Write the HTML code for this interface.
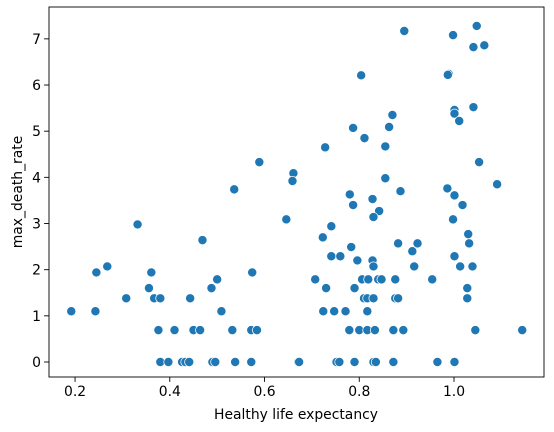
<!DOCTYPE html>
<html><head><meta charset="utf-8"><style>
html,body{margin:0;padding:0;background:#fff;}
svg{display:block;font-family:"DejaVu Sans","Liberation Sans",sans-serif;}
</style></head><body>
<svg id="chart" width="554" height="432" viewBox="0 0 554 432">
<rect x="0" y="0" width="554" height="432" fill="#fff"/>
<g id="points"></g>
<g id="axes"></g>
<text x="296" y="419" font-size="13.9" text-anchor="middle" fill="#000">Healthy life expectancy</text>
<text x="0" y="0" font-size="13.9" text-anchor="middle" fill="#000" transform="translate(22,192) rotate(-90)">max_death_rate</text>
</svg>
<script>
const xTicks = [0.2, 0.4, 0.6, 0.8, 1.0];
const xTickLabels = ["0.2", "0.4", "0.6", "0.8", "1.0"];
const yTicks = [0, 1, 2, 3, 4, 5, 6, 7];
const yTickLabels = ["0", "1", "2", "3", "4", "5", "6", "7"];
const lifeExp = [0.589,0.661,0.659,0.536,0.646,0.332,0.469,0.245,0.268,0.361,0.356,0.500,0.488,0.574,0.308,0.367,0.380,0.443,0.192,0.243,0.509,
0.376,0.410,0.450,0.464,0.532,0.572,0.584,
0.380,0.397,0.426,0.433,0.441,0.490,0.496,0.538,0.572,0.671,
0.728,0.855,0.811,0.804,0.895,0.870,0.863,0.787,0.855,0.780,0.887,0.986,0.828,0.787,0.842,0.830,0.741,0.723,0.783,0.882,0.923,0.912,0.741,0.760,0.796,0.828,0.830,0.916,
0.707,0.806,0.819,0.840,0.847,0.876,0.954,0.730,0.790,
0.810,0.817,0.830,0.876,0.882,
0.724,0.747,0.771,0.817,
0.779,0.800,0.817,0.833,0.872,0.893,
0.673,0.752,0.758,0.790,0.830,0.835,0.872,0.965,
1.048,0.998,1.041,1.064,0.989,0.987,1.001,1.001,1.041,1.011,1.053,1.091,1.001,1.018,0.998,1.030,1.032,1.001,1.013,1.039,1.028,1.028,1.045,1.144,1.001];
const deathRate = [4.33,4.09,3.92,3.74,3.09,2.98,2.64,1.94,2.07,1.94,1.60,1.79,1.60,1.94,1.38,1.38,1.38,1.38,1.10,1.10,1.10,
0.69,0.69,0.69,0.69,0.69,0.69,0.69,
0,0,0,0,0,0,0,0,0,0,
4.65,4.67,4.85,6.21,7.17,5.35,5.09,5.07,3.98,3.63,3.70,3.76,3.53,3.40,3.27,3.14,2.94,2.70,2.49,2.57,2.57,2.40,2.29,2.29,2.20,2.20,2.07,2.07,
1.79,1.79,1.79,1.79,1.79,1.79,1.79,1.60,1.60,
1.38,1.38,1.38,1.38,1.38,
1.10,1.10,1.10,1.10,
0.69,0.69,0.69,0.69,0.69,0.69,
0,0,0,0,0,0,0,0,
7.28,7.08,6.82,6.86,6.24,6.22,5.46,5.38,5.52,5.22,4.33,3.85,3.61,3.40,3.09,2.77,2.57,2.29,2.07,2.07,1.60,1.38,0.69,0.69,0];

const NS = "http://www.w3.org/2000/svg";
const L = 49, R = 544, T = 7, B = 377;
const xMin = 0.145, xMax = 1.19, yMin = -0.325, yMax = 7.69;
function xScale(v){ return L + (v - xMin) / (xMax - xMin) * (R - L); }
function yScale(v){ return B - (v - yMin) / (yMax - yMin) * (B - T); }

const pts = document.getElementById('points');
for (let i = 0; i < lifeExp.length; i++) {
  const c = document.createElementNS(NS, 'circle');
  c.setAttribute('cx', xScale(lifeExp[i]));
  c.setAttribute('cy', yScale(deathRate[i]));
  c.setAttribute('r', 4.6);
  c.setAttribute('fill', '#1f77b4');
  c.setAttribute('stroke', '#fff');
  c.setAttribute('stroke-width', 0.75);
  
  
  pts.appendChild(c);
}

const ax = document.getElementById('axes');
const frame = document.createElementNS(NS, 'rect');
frame.setAttribute('x', L); frame.setAttribute('y', T);
frame.setAttribute('width', R - L); frame.setAttribute('height', B - T);
frame.setAttribute('fill', 'none'); frame.setAttribute('stroke', '#000'); frame.setAttribute('stroke-width', 0.9);


ax.appendChild(frame);

xTicks.forEach((t, i) => {
  const x = xScale(t);
  const ln = document.createElementNS(NS, 'line');
  ln.setAttribute('x1', x); ln.setAttribute('x2', x);
  ln.setAttribute('y1', B); ln.setAttribute('y2', B + 4.9);
  ln.setAttribute('stroke', '#000'); ln.setAttribute('stroke-width', 0.9);
  
  
  ax.appendChild(ln);
  const tx = document.createElementNS(NS, 'text');
  tx.setAttribute('x', x); tx.setAttribute('y', B + 19);
  tx.setAttribute('font-size', '13.9'); tx.setAttribute('text-anchor', 'middle');
  tx.textContent = xTickLabels[i];
  
  
  ax.appendChild(tx);
});
yTicks.forEach((t, i) => {
  const y = yScale(t);
  const ln = document.createElementNS(NS, 'line');
  ln.setAttribute('x1', L - 4.9); ln.setAttribute('x2', L);
  ln.setAttribute('y1', y); ln.setAttribute('y2', y);
  ln.setAttribute('stroke', '#000'); ln.setAttribute('stroke-width', 0.9);
  
  
  ax.appendChild(ln);
  const tx = document.createElementNS(NS, 'text');
  tx.setAttribute('x', L - 8); tx.setAttribute('y', y + 5);
  tx.setAttribute('font-size', '13.9'); tx.setAttribute('text-anchor', 'end');
  tx.textContent = yTickLabels[i];
  
  
  ax.appendChild(tx);
});
</script>
</body></html>
